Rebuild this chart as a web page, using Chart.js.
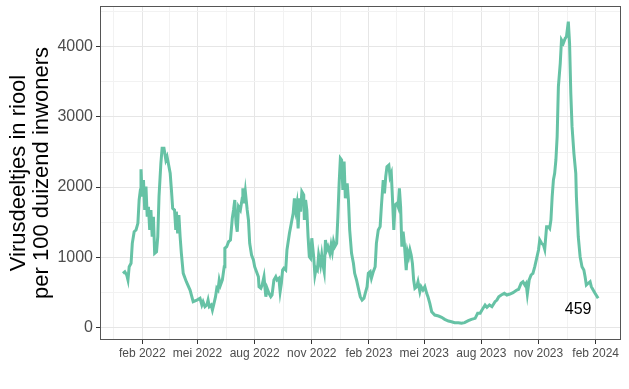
<!DOCTYPE html>
<html lang="nl">
<head>
<meta charset="utf-8">
<title>Virusdeeltjes in riool</title>
<script src="https://cdn.jsdelivr.net/npm/chart.js@4.4.1/dist/chart.umd.min.js"></script>
<style>
  html, body { margin: 0; padding: 0; background: #fff; }
  #myChart { display: block; }
</style>
</head>
<body>
<canvas id="myChart" width="629" height="389"></canvas>
<script>
// meetdag, als aantal dagen sinds 1 januari 2022
const dagen = [
  0, 3, 6, 8, 10, 13, 15, 18, 21, 24, 26, 28, 29, 31, 33, 35, 37, 39, 41, 43,
  45, 47, 49, 51, 54, 56, 58, 61, 63, 66, 69, 71, 73, 76, 78, 80, 83, 85, 86, 88,
  90, 92, 94, 97, 102, 108, 113, 119,
  124, 127, 129, 132, 135, 137, 139, 142, 144, 146, 149, 151, 153, 155, 157, 160, 163, 164, 167, 170,
  173, 176, 178, 180, 182, 184, 186, 189, 192, 193, 195, 197, 200, 202, 204, 207, 210, 212, 215, 218,
  219, 222, 224, 227, 229, 230, 232, 235, 238, 240, 243, 246, 248, 251, 253, 255, 257, 259, 262, 264,
  268,
  271, 274, 276, 278, 280, 282, 284, 286, 288, 291, 292, 294, 296, 298, 300, 302, 304, 307, 309, 311,
  313, 315, 318, 320, 322, 324, 326, 328, 330, 333, 335, 337, 339, 341, 344, 346, 348, 350, 352, 354,
  356, 358, 361, 363, 365, 368, 371, 373, 376, 379, 382, 385, 388, 390, 393, 395, 398, 400, 403,
  406, 408, 411, 414, 416, 419, 421, 423, 425, 428, 430, 432, 434, 436, 438, 441, 443, 445, 447, 449,
  451, 453, 456, 458, 460, 462, 464, 466, 468, 470, 473, 475, 478, 480, 483, 486, 489, 491, 494, 497,
  502, 508, 513, 518, 524, 529, 534,
  540, 545, 550, 556, 561, 567, 571, 575, 578, 583, 586, 590, 594, 599, 602, 605, 609, 614, 618, 623,
  628, 634, 637, 641, 644, 647, 649, 651, 654, 657, 660, 663, 666, 669, 671, 674, 677, 679, 682, 685,
  687, 689, 691, 693, 695, 697, 699, 701, 704, 706, 709, 712, 714, 717, 719, 721, 723, 726, 729, 730,
  733, 736, 739, 742, 744, 746, 749, 752, 754, 757, 760, 765
];

// virusdeeltjes per 100 duizend inwoners
const virusdeeltjes = [
  770, 793, 746, 675, 865, 913, 1198, 1364, 1388, 1483, 1816, 1959, 2254, 1863, 2101, 1673, 2006, 1578, 1720, 1388,
  1673, 1292, 1578, 1056, 1078, 1292, 1863, 2340, 2553, 2553, 2387, 2434, 2340, 2197, 1959, 1697, 1673, 1388, 1649, 1341,
  1602, 1292, 1056, 770, 650, 532, 365, 389,
  414, 318, 365, 294, 318, 389, 294, 318, 247, 318, 437, 556, 532, 675, 603, 675, 865, 1127, 1150, 1221,
  1245, 1555, 1673, 1816, 1483, 1364, 1720, 1673, 1840, 1983, 1769, 1934, 1673, 1531, 1198, 1031, 960, 865, 793, 722,
  579, 556, 603, 722, 532, 437, 556, 485, 437, 461, 675, 722, 675, 699, 508, 628, 817, 842, 817, 1103,
  1341,
  1483, 1626, 1840, 1673, 1769, 1412, 1840, 1649, 1934, 1887, 1531, 1816, 1673, 1292, 1007, 984, 1270, 1007, 746, 842,
  817, 1031, 889, 1031, 889, 793, 1245, 1103, 1150, 1056, 1174, 1078, 1221, 1150, 1198, 1578, 2054, 2411, 2387, 1959,
  2363, 1840, 2054, 1816, 1388, 1056, 913, 770, 675, 556, 437, 389, 414, 485, 579, 770, 793, 699, 793,
  865, 1198, 1388, 1436, 1720, 2101, 1911, 2148, 2291, 2315, 2148, 2197, 1816, 1388, 1745, 1769, 1720, 1983, 1720, 1150,
  1364, 1198, 817, 1078, 1007, 1103, 1031, 913, 675, 556, 579, 650, 508, 579, 532, 579, 485, 437, 342, 223,
  175, 161, 143, 114, 90, 80, 66,
  66, 57, 66, 94, 114, 128, 200, 200, 247, 318, 285, 318, 294, 365, 389, 437, 461, 485, 461, 475,
  494, 532, 542, 628, 650, 603, 628, 475, 675, 746, 770, 865, 984, 1103, 1245, 1198, 1174, 1113, 1436, 1436,
  1412, 1531, 1863, 2101, 2197, 2387, 2719, 3432, 3766, 4098, 4051, 4122, 4146, 4360, 4051, 3338, 2862, 2482, 2197, 1863,
  1292, 1007, 865, 817, 722, 603, 628, 650, 579, 532, 485, 414
];

// x-as: eerste dag van de maand (dagen sinds 1 jan 2022) en labels
const tickDagen = [31, 120, 212, 304, 396, 485, 577, 669, 761];
const tickLabels = ['feb 2022', 'mei 2022', 'aug 2022', 'nov 2022', 'feb 2023',
                    'mei 2023', 'aug 2023', 'nov 2023', 'feb 2024'];
const minorDagen = [-15, 75.5, 166, 258, 350, 440.5, 531, 623, 715];

// y-as
const yMajor = [0, 1000, 2000, 3000, 4000];
const yMinor = [500, 1500, 2500, 3500, 4500];

const eindLabel = '459';

Chart.defaults.font.family = '"Liberation Sans", Arial, Helvetica, sans-serif';

const punten = dagen.map((d, i) => ({ x: d, y: virusdeeltjes[i] }));

const gridMajor = '#E6E6E6';
const gridMinor = '#F2F2F2';

// kader rond het plotvlak (zoals theme_bw)
const kader = {
  id: 'kader',
  afterDraw(chart) {
    const { ctx, chartArea: a } = chart;
    ctx.save();
    ctx.strokeStyle = '#555555';
    ctx.lineWidth = 1;
    ctx.strokeRect(Math.round(a.left) + 0.5, Math.round(a.top) + 0.5,
                   Math.round(a.right - a.left) - 1, Math.round(a.bottom - a.top) - 1);
    ctx.restore();
  }
};

// label bij de laatste meting
const laatsteWaarde = {
  id: 'laatsteWaarde',
  afterDatasetsDraw(chart) {
    const { ctx, scales } = chart;
    const n = dagen.length - 1;
    const px = scales.x.getPixelForValue(dagen[n]);
    const py = scales.y.getPixelForValue(virusdeeltjes[n]);
    ctx.save();
    ctx.fillStyle = '#000';
    ctx.font = '16px "Liberation Sans", Arial, sans-serif';
    ctx.textAlign = 'center';
    ctx.textBaseline = 'middle';
    ctx.fillText(eindLabel, px - 20, py + 11);
    ctx.restore();
  }
};

const config = {
  type: 'line',
  data: {
    datasets: [{
      data: punten,
      borderColor: '#66C2A5',
      borderWidth: 3,
      pointRadius: 0,
      tension: 0,
      fill: false
    }]
  },
  options: {
    responsive: false,
    animation: false,
    layout: { padding: { top: 6, right: 8.5, left: 0, bottom: 0 } },
    plugins: { legend: { display: false }, tooltip: { enabled: false } },
    scales: {
      x: {
        type: 'linear',
        min: -37,
        max: 801,
        afterBuildTicks: (scale) => {
          scale.ticks = tickDagen.concat(minorDagen).sort((a, b) => a - b).map(v => ({ value: v }));
        },
        afterFit: (scale) => {
          scale.height = 49;
          scale.paddingLeft = 0;
          scale.paddingRight = 0;
        },
        border: { display: false },
        grid: {
          color: (c) => tickDagen.includes(c.tick.value) ? gridMajor : gridMinor,
          lineWidth: 1,
          tickColor: (c) => tickDagen.includes(c.tick.value) ? '#333333' : 'rgba(0,0,0,0)',
          tickLength: 4,
          tickWidth: 1
        },
        ticks: {
          autoSkip: false,
          maxRotation: 0,
          padding: 2,
          color: '#4D4D4D',
          font: { size: 12 },
          callback: (v) => {
            const i = tickDagen.indexOf(v);
            return i >= 0 ? tickLabels[i] : '';
          }
        }
      },
      y: {
        min: -181,
        max: 4583,
        afterBuildTicks: (scale) => {
          scale.ticks = yMajor.concat(yMinor).sort((a, b) => a - b).map(v => ({ value: v }));
        },
        afterFit: (scale) => {
          scale.width = 100;
          scale.paddingTop = 0;
          scale.paddingBottom = 0;
        },
        border: { display: false },
        grid: {
          color: (c) => yMajor.includes(c.tick.value) ? gridMajor : gridMinor,
          lineWidth: 1,
          tickColor: (c) => yMajor.includes(c.tick.value) ? '#333333' : 'rgba(0,0,0,0)',
          tickLength: 4,
          tickWidth: 1
        },
        ticks: {
          padding: 3,
          color: '#4D4D4D',
          font: { size: 16 },
          callback: (v) => yMajor.includes(v) ? String(v) : ''
        },
        title: {
          display: true,
          text: ['Virusdeeltjes in riool', 'per 100 duizend inwoners'],
          color: '#000',
          font: { size: 22, lineHeight: 1.05 },
          padding: { top: 7, bottom: 0 }
        }
      }
    }
  },
  plugins: [kader, laatsteWaarde]
};

const myChart = new Chart(document.getElementById('myChart'), config);
</script>
</body>
</html>
